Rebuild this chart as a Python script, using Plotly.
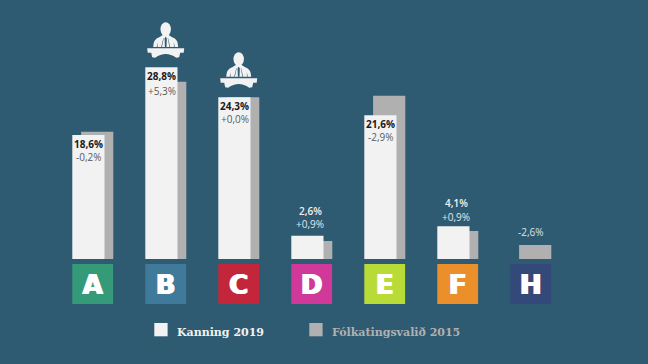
import plotly.graph_objects as go

CATEGORIES = ["A", "B", "C", "D", "E", "F", "H"]
KANNING = [18.6, 28.8, 24.3, 3.5, 21.6, 4.9, None]
VALID = [19.1, 26.6, 24.3, 2.7, 24.5, 4.2, 2.1]
LABEL_SHARE = ["18,6%", "28,8%", "24,3%", "2,6%", "21,6%", "4,1%", ""]
LABEL_DELTA = ["-0,2%", "+5,3%", "+0,0%", "+0,9%", "-2,9%", "+0,9%", "-2,6%"]
INSIDE = [True, True, True, False, True, False, False]
TILE_COLORS = ["#359A77", "#3F7A9A", "#C3253A", "#D0399A", "#B9DB37", "#EA8F2A", "#33497A"]
WINNERS = ["B", "C"]
SERIES_NAMES = ["Kanning 2019", "Fólkatingsvalið 2015"]

BG = "#2F5B72"
WHITE = "#F2F2F2"
GRAY = "#B0B0B0"
W, H = 648, 364
BASE_PX = 259
PX_PER_UNIT = 6.66
STEP = 73
C0 = 92.7
LABEL_FONT = "Open Sans"
LABEL_SIZE = 10

fig = go.Figure()
fig.add_bar(x=CATEGORIES, y=VALID, name=SERIES_NAMES[1], marker=dict(color=GRAY, line_width=0),
            width=32.2 / STEP, offset=-11.6 / STEP, showlegend=False)
fig.add_bar(x=CATEGORIES, y=KANNING, name=SERIES_NAMES[0], marker=dict(color=WHITE, line_width=0),
            width=32.2 / STEP, offset=-20.4 / STEP, showlegend=False)

shapes, ann = [], []
for i, c in enumerate(CATEGORIES):
    shapes.append(dict(type="rect", xref="x", yref="paper", x0=i - 20.4 / STEP, x1=i + 20.4 / STEP,
                       y0=1 - 304 / H, y1=1 - 264 / H, fillcolor=TILE_COLORS[i], line_width=0, layer="below"))
    top = KANNING[i] if KANNING[i] is not None else VALID[i]
    if INSIDE[i]:
        ann.append(dict(x=i, y=top, text=LABEL_SHARE[i], yshift=-8.5, xshift=-4.2,
                        font=dict(color="#1A1A1A", size=LABEL_SIZE, weight="bold")))
        ann.append(dict(x=i, y=top, text=LABEL_DELTA[i], yshift=-24 if c == "B" else -21.5, xshift=-4.2,
                        font=dict(color="#5A5A5A", size=LABEL_SIZE)))
    else:
        if LABEL_SHARE[i]:
            ann.append(dict(x=i, y=top, text=LABEL_SHARE[i], yshift=25 if c == "D" else 23, xshift=-1.5,
                            font=dict(color="#F2F2F2", size=LABEL_SIZE, weight=600)))
            ann.append(dict(x=i, y=top, text=LABEL_DELTA[i], yshift=11.5 if c == "D" else 9.5, xshift=-1.5,
                            font=dict(color="#E0E6EA", size=LABEL_SIZE)))
        else:
            ann.append(dict(x=i, y=top, text=LABEL_DELTA[i], yshift=13, xshift=0,
                            font=dict(color="#DDE3E7", size=LABEL_SIZE)))

for c in WINNERS:
    i = CATEGORIES.index(c)
    v = KANNING[i]
    anchor = dict(xref="x", yref="y", xsizemode="pixel", ysizemode="pixel", xanchor=i, yanchor=v,
                  line_width=0, layer="above")
    # podium
    shapes.append(dict(type="path", fillcolor=WHITE, **anchor,
                       path="M-18.5,19 L18.5,19 L18,14.5 L14.5,14.5 L13.5,10 L10.5,9.5 Q0,17 -10.5,9.5 L-13.5,10 L-14.5,14.5 L-18,14.5 Z"))
    # body
    shapes.append(dict(type="path", fillcolor=WHITE, **anchor,
                       path="M-12.5,20.3 Q-12.5,28 -6.5,30 L-2.5,32.5 L2.5,32.5 L6.5,30 Q12.5,28 12.5,20.3 Z"))
    # tie and lapels
    shapes.append(dict(type="path", fillcolor=BG, **anchor,
                       path="M-0.8,20.3 L0.8,20.3 L1.1,29 L0,30.5 L-1.1,29 Z M-4.5,20.3 L-3.8,20.3 L-2,29 L-2.4,29 Z M4.5,20.3 L3.8,20.3 L2,29 L2.4,29 Z M-9,20.3 L-8.2,20.3 L-8.2,25 Z M9,20.3 L8.2,20.3 L8.2,25 Z"))
    # head
    shapes.append(dict(type="circle", fillcolor=WHITE, **anchor, x0=-5.2, x1=5.2, y0=31, y1=45))

# legend
for sx, color, tx, name in [(154.3, WHITE, 175.2, SERIES_NAMES[0]), (309.3, GRAY, 329.9, SERIES_NAMES[1])]:
    shapes.append(dict(type="rect", xref="paper", yref="paper", x0=sx / W, x1=(sx + 13.3) / W,
                       y0=1 - 336.3 / H, y1=1 - 323 / H, fillcolor=color, line_width=0))
    ann.append(dict(xref="paper", yref="paper", x=tx / W, y=1 - 331.7 / H, text=name, xanchor="left",
                    yanchor="middle", yshift=-1,
                    font=dict(family="DejaVu Serif", size=11, weight="bold", color=color)))

for a in ann:
    a.setdefault("xref", "x")
    a.setdefault("yref", "y")
    a["showarrow"] = False
    a.setdefault("yanchor", "middle")
    a["font"].setdefault("family", LABEL_FONT)

fig.update_layout(
    width=W, height=H, margin=dict(l=0, r=0, t=0, b=0), autosize=False,
    paper_bgcolor=BG, plot_bgcolor=BG, barmode="overlay", showlegend=False,
    shapes=shapes, annotations=ann,
    xaxis=dict(type="category", categoryorder="array", categoryarray=CATEGORIES,
               range=[-C0 / STEP, (W - C0) / STEP], showgrid=False, zeroline=False, showline=False,
               ticks="", anchor="free", position=1 - BASE_PX / H, ticklabelstandoff=8,
               tickfont=dict(family="DejaVu Sans", size=26, weight="bold", color="#FFFFFF",
                             shadow="0.8px 0 0 #FFFFFF, -0.8px 0 0 #FFFFFF")),
    yaxis=dict(range=[-(H - BASE_PX) / PX_PER_UNIT, BASE_PX / PX_PER_UNIT], visible=False),
)
fig.write_html("out.html", config=dict(displayModeBar=False),
               post_script="document.body.style.margin='0';document.body.style.background='" + BG + "';")
